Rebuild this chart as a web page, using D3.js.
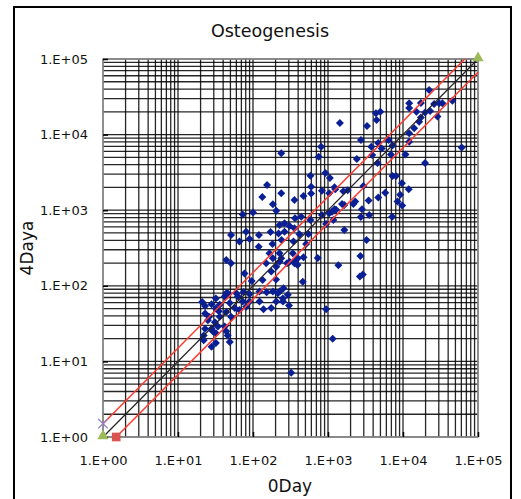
<!DOCTYPE html>
<html><head><meta charset="utf-8">
<script src="https://cdn.jsdelivr.net/npm/d3@7/dist/d3.min.js"></script>
<style>body{margin:0;background:#fff}svg{display:block}</style>
</head><body><svg id="c" width="521" height="499"></svg>
<script>
// Day 0 expression (x) and Day 4 expression (y)
const day0 = [21,23,28,32,36,42,46,49,57,35,44,32,23,26,36,51,25,31,42,23,28,34,29,44,22,46,22,32,49,28,32,63,60,44,66,81,73,90,
 77,96,134,152,75,90,122,138,175,122,204,251,302,184,226,255,291,214,250,203,175,204,226,284,357,150,166,226,184,238,307,339,395,392,369,44,51,461,323,
 51,81,120,171,66,90,119,219,240,263,347,511,417,549,182,307,357,226,363,439,583,830,1040,1280,1650,1180,944,263,73,100,204,184,133,154,238,357,471,596,830,238,810,752,923,583,1060,596,1220,1440,730,1375,471,1040,1600,1830,1250,944,1155,1650,
 22300,12100,12100,17300,15100,26000,30300,33500,45500,23000,19700,17300,28800,16400,14100,12100,12100,4360,4980,4440,3310,2750,3780,4680,5210,6450,7250,6900,10800,3890,2420,4580,19700,60700,7250,8050,9670,11900,2960,5800,9180,4680,3480,8450,9760,2310,2180,1540,2840,1220,1130,2740,3550,7180,3270,2700,2660,2910];
const day4 = [61,54,57,68,56,72,80,59,51,46,45,50,43,39,39,39,35,33,29,27,27,29,25,25,22,22,19,17.5,18,15.6,23.5,72,80,80,48,53,62,62,
 146,116,119,82,83,78,84,49,51,62,62,62,55,84,84,93,76,80,68,121,155,179,208,199,199,199,269,269,231,231,208,269,231,188,215,219,199,113,7.1,
 470,520,470,515,385,416,329,492,404,520,385,357,480,484,357,618,576,637,782,820,742,864,910,1010,1170,742,657,671,877,933,985,1200,1500,2150,1670,1360,1540,1660,1810,5660,6920,5100,3100,2860,2670,2050,2010,14200,233,187,238,1670,1780,1830,1890,49,20,547,
 38900,25900,22500,26200,20100,25400,25900,25900,28100,20500,19600,16800,17300,14800,12100,10400,8050,19100,20100,15600,13000,8490,6920,7740,6550,8490,7180,5460,5460,5370,4760,4210,4210,6750,2830,2830,2270,1890,2090,1700,1600,1470,1340,1300,1150,1300,1210,1210,1030,1030,955,813,864,820,404,248,133,141];

const tickValues = [1, 10, 100, 1000, 10000, 100000];
const tickLabels = ["1.E+00", "1.E+01", "1.E+02", "1.E+03", "1.E+04", "1.E+05"];
const title = "Osteogenesis";
const xTitle = "0Day";
const yTitle = "4Daya";

// reference lines: y = x and 1.5-fold bounds
const identityX = [1, 100000], identityY = [1, 100000];
const upperX = [1, 66667], upperY = [1.5, 100000];
const lowerX = [1.5, 100000], lowerY = [1, 66667];

const svg = d3.select("#c");
const L = 103, R = 478, T = 59, B = 437;
const x = d3.scaleLog().domain([1, 100000]).range([L, R]);
const y = d3.scaleLog().domain([1, 100000]).range([B, T]);

// outer frame
svg.append("rect").attr("x", 14).attr("y", 7).attr("width", 497).attr("height", 520)
  .attr("fill", "#fff").attr("stroke", "#000").attr("stroke-width", 2);

// title
svg.append("text").attr("x", 270).attr("y", 37).attr("text-anchor", "middle")
  .attr("font-family", "DejaVu Sans").attr("font-size", 17.5).attr("fill", "#111").text(title);

// grid
const gridVals = [];
for (let d = 0; d < 5; d++) for (let k = 1; k <= 9; k++) gridVals.push(k * Math.pow(10, d));
gridVals.push(100000);
const g = svg.append("g");
g.selectAll(".gx").data(gridVals).join("line")
  .attr("x1", d => x(d)).attr("x2", d => x(d)).attr("y1", T).attr("y2", B)
  .attr("stroke", "#000").attr("stroke-width", 1.3).attr("stroke-opacity", 0.85);
g.selectAll(".gy").data(gridVals).join("line")
  .attr("y1", d => y(d)).attr("y2", d => y(d)).attr("x1", L).attr("x2", R)
  .attr("stroke", "#000").attr("stroke-width", 1.3).attr("stroke-opacity", 0.85);
svg.append("rect").attr("x", L).attr("y", T).attr("width", R - L).attr("height", B - T)
  .attr("fill", "none").attr("stroke", "#999").attr("stroke-width", 1.5);

// axes
const fmt = (d) => tickLabels[tickValues.indexOf(d)];
const ax = svg.append("g").attr("transform", `translate(0,${B})`)
  .call(d3.axisBottom(x).tickValues(tickValues).tickFormat(fmt).tickSizeInner(-5).tickSizeOuter(0).tickPadding(19));
const ay = svg.append("g").attr("transform", `translate(${L},0)`)
  .call(d3.axisLeft(y).tickValues(tickValues).tickFormat(fmt).tickSizeInner(-5).tickSizeOuter(0).tickPadding(15));
[ax, ay].forEach(a => {
  a.select(".domain").remove();
  a.selectAll("line").attr("stroke", "#000").attr("stroke-width", 1.5);
  a.selectAll("text").attr("font-family", "DejaVu Sans").attr("font-size", 13).attr("fill", "#111");
});

// axis titles
svg.append("text").attr("x", 290).attr("y", 492).attr("text-anchor", "middle")
  .attr("font-family", "DejaVu Sans").attr("font-size", 17).attr("fill", "#111").text(xTitle);
svg.append("text").attr("transform", "translate(33,248) rotate(-90)").attr("text-anchor", "middle")
  .attr("font-family", "DejaVu Sans").attr("font-size", 17).attr("fill", "#111").text(yTitle);

// scatter (diamonds)
const pts = day0.map((v, i) => [v, day4[i]]);
const sq = d3.symbol().type(d3.symbolSquare).size(32);
svg.append("g").selectAll("path").data(pts).join("path")
  .attr("d", sq).attr("transform", d => `translate(${x(d[0])},${y(d[1])}) rotate(45)`)
  .attr("fill", "#0b1f95");

// reference lines
const line = d3.line().x(d => x(d[0])).y(d => y(d[1]));
const mk = (xs, ys) => xs.map((v, i) => [v, ys[i]]);
svg.append("path").attr("d", line(mk(identityX, identityY))).attr("stroke", "#222").attr("stroke-width", 1.2).attr("fill", "none");
svg.append("path").attr("d", line(mk(upperX, upperY))).attr("stroke", "#ff3b30").attr("stroke-width", 1.5).attr("fill", "none");
svg.append("path").attr("d", line(mk(lowerX, lowerY))).attr("stroke", "#ff3b30").attr("stroke-width", 1.5).attr("fill", "none");

// markers
const tri = d3.symbol().type(d3.symbolTriangle).size(55);
mk(identityX, identityY).forEach(p => svg.append("path").attr("d", tri)
  .attr("transform", `translate(${x(p[0])},${y(p[1]) - 1})`).attr("fill", "#9bbb59"));
svg.append("path").attr("d", d3.symbol().type(d3.symbolSquare).size(75))
  .attr("transform", `translate(${x(lowerX[0])},${y(lowerY[0])})`).attr("fill", "#d9534f");
svg.append("path").attr("d", d3.symbol().type(d3.symbolX).size(60))
  .attr("transform", `translate(${x(upperX[0])},${y(upperY[0])})`).attr("fill", "none")
  .attr("stroke", "#8f7fc4").attr("stroke-width", 1.3);
</script></body></html>
